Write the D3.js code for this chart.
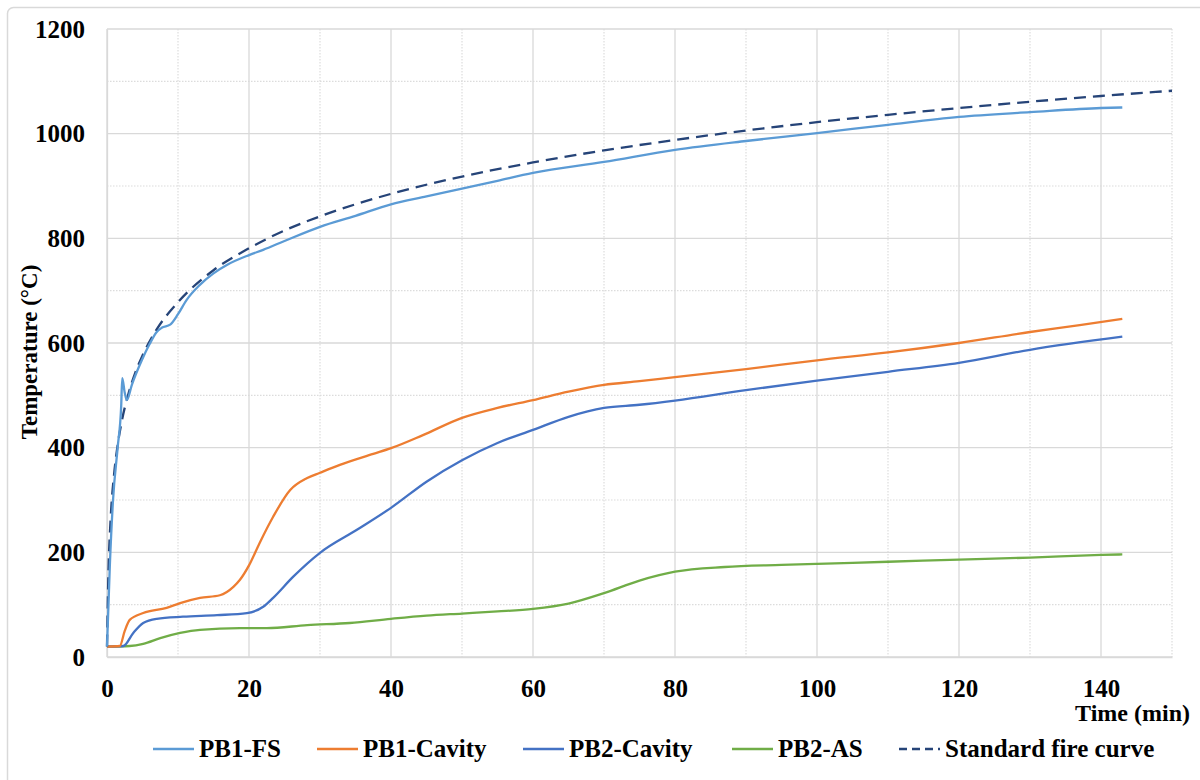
<!DOCTYPE html>
<html>
<head>
<meta charset="utf-8">
<script src="https://cdn.jsdelivr.net/npm/d3@7"></script>
<style>
  body { margin: 0; background: #fff; }
  text { font-family: "Liberation Serif", "Times New Roman", serif; font-weight: bold; fill: #000; }
</style>
</head>
<body>
<div id="chart"></div>
<script>
// time (min) / temperature (°C)
const fsTime = [0, 0.4, 0.85, 1.5, 2.0, 2.15, 2.5, 2.8, 3.5, 4.9, 6, 7, 7.7, 8.9, 10, 11.2, 13, 15, 17, 20, 22, 25, 30, 35, 40, 45, 50, 55, 60, 70, 80, 90, 100, 110, 120, 130, 140, 143];
const fsTemp = [20, 175, 300, 400, 480, 533, 505, 491, 520, 567, 598, 621, 629, 635, 655, 682, 710, 733, 750, 768, 778, 795, 822, 843, 865, 880, 895, 910, 925, 946, 969, 986, 1001, 1017, 1032, 1041, 1049, 1050];

const c1Time = [0, 1.8, 2.5, 3.2, 5.1, 8.4, 10.3, 13.1, 15.9, 17.8, 18.7, 20, 21.5, 23.4, 25.8, 28.2, 30, 32.8, 37.5, 40, 44.5, 50, 55, 60, 65, 70, 75, 80, 90, 100, 110, 120, 130, 137, 143];
const c1Temp = [20, 21, 50, 71, 84, 94, 103, 113, 118, 134, 147, 175, 218, 268, 319, 342, 352, 367, 388, 399, 424, 457, 476, 491, 507, 520, 527, 535, 550, 567, 582, 600, 621, 634, 646];

const c2Time = [0, 2.3, 3.7, 5.1, 7, 10.7, 15.5, 19.7, 22, 23.4, 26.2, 30, 35.2, 40, 45, 50, 55, 60, 65, 70, 75, 80, 90, 100, 110, 120, 130, 143];
const c2Temp = [20, 21, 46, 65, 73, 77, 80, 84, 96, 113, 153, 199, 243, 285, 335, 376, 409, 434, 459, 476, 482, 490, 510, 528, 545, 562, 587, 612];

const asTime = [0, 3.2, 5.1, 7.5, 10.3, 13.1, 18.7, 22.5, 28.2, 34.2, 40, 45, 50, 55, 60, 65, 70, 75, 80, 87, 95, 100, 110, 120, 130, 140, 143];
const asTemp = [20, 21, 25, 36, 46, 52, 55, 55, 61, 65, 73, 79, 83, 87, 92, 102, 122, 146, 163, 172, 176, 178, 182, 186, 190, 195, 196];

const isoTime = [0, 0.2, 0.5, 1, 1.5, 2, 3, 4, 5, 7, 10, 15, 20, 25, 30, 40, 50, 60, 70, 80, 90, 100, 110, 120, 130, 140, 150];
const isoTemp = [20, 160, 261, 349, 405, 445, 502, 544, 576, 626, 678, 739, 781, 815, 842, 885, 918, 945, 968, 988, 1006, 1022, 1036, 1049, 1061, 1072, 1082];

const seriesNames = ["PB1-FS", "PB1-Cavity", "PB2-Cavity", "PB2-AS", "Standard fire curve"];
const seriesColors = ["#5b9bd5", "#ed7d31", "#4472c4", "#70ad47", "#264478"];
const xTicks = [0, 20, 40, 60, 80, 100, 120, 140];
const yTicks = [0, 200, 400, 600, 800, 1000, 1200];

const W = 1200, H = 780;
// plot area edges in px
const plot = { left: 107, right: 1172, top: 29, bottom: 657 };

const svg = d3.select("#chart").append("svg")
    .attr("width", W)
    .attr("height", H);

// outer chart frame (runs off the bottom/right of the picture)
svg.append("rect")
    .attr("x", 7.5).attr("y", 7.5)
    .attr("width", 1250).attr("height", 850)
    .attr("rx", 6)
    .attr("fill", "none")
    .attr("stroke", "#d9d9d9")
    .attr("stroke-width", 1.5);

const x = d3.scaleLinear().domain([0, 150]).range([plot.left, plot.right]);
const y = d3.scaleLinear().domain([0, 1200]).range([plot.bottom, plot.top]);

// minor gridlines (dotted)
const minorX = d3.range(10, 151, 20);
const minorY = d3.range(100, 1200, 200);
svg.append("g").selectAll("line").data(minorX).join("line")
    .attr("x1", d => x(d)).attr("x2", d => x(d))
    .attr("y1", plot.top).attr("y2", plot.bottom)
    .attr("stroke", "#dcdcdc").attr("stroke-width", 1.2)
    .attr("stroke-dasharray", "1.5,1.5");
svg.append("g").selectAll("line").data(minorY).join("line")
    .attr("x1", plot.left).attr("x2", plot.right)
    .attr("y1", d => y(d)).attr("y2", d => y(d))
    .attr("stroke", "#dcdcdc").attr("stroke-width", 1.2)
    .attr("stroke-dasharray", "1.5,1.5");

// major gridlines
svg.append("g").selectAll("line").data(xTicks).join("line")
    .attr("x1", d => x(d)).attr("x2", d => x(d))
    .attr("y1", plot.top).attr("y2", plot.bottom)
    .attr("stroke", "#d9d9d9").attr("stroke-width", 1.3);
svg.append("g").selectAll("line").data(yTicks).join("line")
    .attr("x1", plot.left).attr("x2", plot.right)
    .attr("y1", d => y(d)).attr("y2", d => y(d))
    .attr("stroke", "#d9d9d9").attr("stroke-width", 1.3);

// axes: labels only, no tick marks
const xAxis = d3.axisBottom(x).tickValues(xTicks).tickSize(0).tickPadding(22).tickFormat(d3.format("d"));
svg.append("g")
    .attr("transform", "translate(0," + plot.bottom + ")")
    .call(xAxis)
    .call(g => g.select(".domain").attr("stroke", "#d9d9d9").attr("stroke-width", 1.3))
    .selectAll("text")
    .style("font-size", "25px").style("font-family", "Liberation Serif").style("font-weight", "bold");

const yAxis = d3.axisLeft(y).tickValues(yTicks).tickSize(0).tickPadding(22).tickFormat(d3.format("d"));
svg.append("g")
    .attr("transform", "translate(" + plot.left + ",0)")
    .call(yAxis)
    .call(g => g.select(".domain").attr("stroke", "#d9d9d9").attr("stroke-width", 1.3))
    .selectAll("text")
    .style("font-size", "25px").style("font-family", "Liberation Serif").style("font-weight", "bold");

// axis titles
svg.append("text")
    .attr("x", 1190).attr("y", 721)
    .attr("text-anchor", "end")
    .style("font-size", "24px")
    .text("Time (min)");

svg.append("text")
    .attr("transform", "translate(37,352) rotate(-90)")
    .attr("text-anchor", "middle")
    .style("font-size", "23px")
    .text("Temperature (°C)");

// lines
const series = [
    { t: fsTime, v: fsTemp },
    { t: c1Time, v: c1Temp },
    { t: c2Time, v: c2Temp },
    { t: asTime, v: asTemp },
    { t: isoTime, v: isoTemp }
];

const line = d3.line()
    .x(d => x(d[0]))
    .y(d => y(d[1]))
    .curve(d3.curveMonotoneX);

// draw order: PB2-AS, PB2-Cavity, PB1-Cavity, standard, PB1-FS on top
[3, 2, 1, 4, 0].forEach(i => {
    const pts = series[i].t.map((t, k) => [t, series[i].v[k]]);
    svg.append("path")
        .datum(pts)
        .attr("d", line)
        .attr("fill", "none")
        .attr("stroke", seriesColors[i])
        .attr("stroke-width", 2.3)
        .attr("stroke-linejoin", "round")
        .attr("stroke-dasharray", i === 4 ? "12,7" : null);
});

// legend
const legendX = [153, 317, 523, 732, 899];
const lg = svg.append("g");
seriesNames.forEach((name, i) => {
    lg.append("line")
        .attr("x1", legendX[i]).attr("x2", legendX[i] + 41)
        .attr("y1", 749).attr("y2", 749)
        .attr("stroke", seriesColors[i])
        .attr("stroke-width", 2.3)
        .attr("stroke-dasharray", i === 4 ? "8,5" : null);
    lg.append("text")
        .attr("x", legendX[i] + 46).attr("y", 757)
        .style("font-size", "25px")
        .text(name);
});
</script>
</body>
</html>
